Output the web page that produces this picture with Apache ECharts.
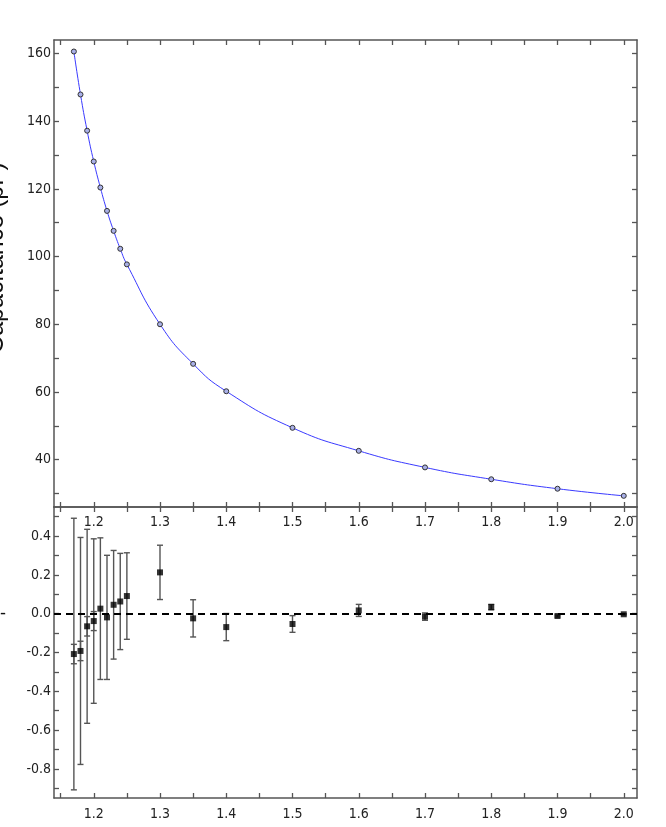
<!DOCTYPE html>
<html>
<head>
<meta charset="utf-8">
<script src="https://cdn.jsdelivr.net/npm/echarts@6/dist/echarts.min.js"></script>
<style>html,body{margin:0;padding:0;background:#fff;}#c{width:666px;height:827px;}</style>
</head>
<body>
<div id="c"></div>
<script>
// ---- data ----
var xVals = [1.17, 1.18, 1.19, 1.20, 1.21, 1.22, 1.23, 1.24, 1.25, 1.30, 1.35, 1.40, 1.50, 1.60, 1.70, 1.80, 1.90, 2.00];
var capacitance = [160.6, 147.9, 137.2, 128.1, 120.4, 113.5, 107.6, 102.3, 97.7, 80.0, 68.3, 60.2, 49.4, 42.6, 37.7, 34.2, 31.4, 29.3];
var residuals = [-0.208, -0.192, -0.065, -0.038, 0.026, -0.019, 0.046, 0.063, 0.091, 0.213, -0.024, -0.069, -0.053, 0.017, -0.015, 0.034, -0.012, -0.003];
var errBig = [0.70, 0.585, 0.50, 0.424, 0.365, 0.32, 0.28, 0.248, 0.223, 0.14, 0.096, 0.07, 0.043, 0.031, 0.019, 0.014, 0.005, 0.003];
var errSmall = [0.05, 0.05, 0.05, 0.049, null, null, null, null, null, null, null, null, null, null, null, null, null, null];

var xLabels = [1.2, 1.3, 1.4, 1.5, 1.6, 1.7, 1.8, 1.9, 2.0];
var xTicks = [1.15, 1.2, 1.25, 1.3, 1.35, 1.4, 1.45, 1.5, 1.55, 1.6, 1.65, 1.7, 1.75, 1.8, 1.85, 1.9, 1.95, 2.0];
var capLabels = [40, 60, 80, 100, 120, 140, 160];
var capTicks = [30, 40, 50, 60, 70, 80, 90, 100, 110, 120, 130, 140, 150, 160];
var resLabels = [-0.8, -0.6, -0.4, -0.2, 0.0, 0.2, 0.4];
var resTicks = [-0.9, -0.8, -0.7, -0.6, -0.5, -0.4, -0.3, -0.2, -0.1, 0.0, 0.1, 0.2, 0.3, 0.4, 0.5];

var FONT = '"DejaVu Sans Condensed", "DejaVu Sans", sans-serif';
var AX = '#555';

function axis(opts) {
  return Object.assign({
    type: 'value',
    axisLine: { show: true, onZero: false, lineStyle: { color: AX, width: 1.5 } },
    axisTick: { show: true, inside: true, length: 5, lineStyle: { color: AX, width: 1.3 }, customValues: opts.ticks },
    axisLabel: opts.labels ? {
      show: true, customValues: opts.labels, margin: opts.margin, color: '#222',
      fontFamily: FONT, fontSize: 14, formatter: opts.fmt
    } : { show: false },
    splitLine: { show: false },
    minorTick: { show: false }
  }, opts.extra);
}

var fmt1 = function (v) { return (Math.round(v * 10) / 10).toFixed(1); };
var fmt0 = function (v) { return String(Math.round(v)); };

function errRender(params, api) {
  var x = api.value(0), y = api.value(1), e = api.value(2);
  if (e == null || isNaN(e)) return null;
  var lo = api.coord([x, y - e]);
  var hi = api.coord([x, y + e]);
  var w = 3;
  var st = { stroke: '#555', lineWidth: 1.4 };
  return {
    type: 'group',
    children: [
      { type: 'line', shape: { x1: lo[0], y1: lo[1], x2: hi[0], y2: hi[1] }, style: st },
      { type: 'line', shape: { x1: hi[0] - w, y1: hi[1], x2: hi[0] + w, y2: hi[1] }, style: st },
      { type: 'line', shape: { x1: lo[0] - w, y1: lo[1], x2: lo[0] + w, y2: lo[1] }, style: st }
    ]
  };
}

var chart = echarts.init(document.getElementById('c'), null, { renderer: 'canvas' });
var option = {
  animation: false,
  backgroundColor: '#fff',
  grid: [
    { left: 54, right: 29, top: 40, height: 467 },
    { left: 54, right: 29, top: 507, height: 291 }
  ],
  xAxis: [
    axis({ ticks: xTicks, labels: xLabels, margin: 8, fmt: fmt1, extra: { gridIndex: 0, position: 'bottom', min: 1.14, max: 2.02 } }),
    axis({ ticks: xTicks, extra: { gridIndex: 0, position: 'top', min: 1.14, max: 2.02 } }),
    axis({ ticks: xTicks, labels: xLabels, margin: 9, fmt: fmt1, extra: { gridIndex: 1, position: 'bottom', min: 1.14, max: 2.02 } }),
    axis({ ticks: xTicks, extra: { gridIndex: 1, position: 'top', min: 1.14, max: 2.02 } })
  ],
  yAxis: [
    axis({ ticks: capTicks, labels: capLabels, margin: 3, fmt: fmt0, extra: { gridIndex: 0, position: 'left', min: 26, max: 164 } }),
    axis({ ticks: capTicks, extra: { gridIndex: 0, position: 'right', min: 26, max: 164 } }),
    axis({ ticks: resTicks, labels: resLabels, margin: 3, fmt: fmt1, extra: { gridIndex: 1, position: 'left', min: -0.95, max: 0.55 } }),
    axis({ ticks: resTicks, extra: { gridIndex: 1, position: 'right', min: -0.95, max: 0.55 } })
  ],
  graphic: [
    { type: 'text', x: 9, y: 258, rotation: Math.PI / 2,
      style: { text: 'Capacitance (pF)', font: '25px "Liberation Sans", sans-serif', fill: '#111', textAlign: 'center', textVerticalAlign: 'bottom' } },
    { type: 'text', x: 0, y: 614,
      style: { text: '-', font: '18px "Liberation Sans", sans-serif', fill: '#111', textAlign: 'left', textVerticalAlign: 'middle' } }
  ],
  series: [
    {
      type: 'line', xAxisIndex: 0, yAxisIndex: 0,
      data: xVals.map(function (x, i) { return [x, capacitance[i]]; }),
      smooth: 0.5,
      symbol: 'circle', symbolSize: 5, showSymbol: true,
      lineStyle: { color: '#3a3aff', width: 1 },
      itemStyle: { color: '#a9b0e8', borderColor: '#333', borderWidth: 1 },
      z: 3
    },
    {
      type: 'custom', xAxisIndex: 2, yAxisIndex: 2,
      renderItem: errRender,
      data: xVals.map(function (x, i) { return [x, residuals[i], errBig[i]]; }),
      z: 2
    },
    {
      type: 'custom', xAxisIndex: 2, yAxisIndex: 2,
      renderItem: errRender,
      data: xVals.map(function (x, i) { return [x, residuals[i], errSmall[i] == null ? NaN : errSmall[i]]; }),
      z: 2
    },
    {
      type: 'scatter', xAxisIndex: 2, yAxisIndex: 2,
      data: xVals.map(function (x, i) { return [x, residuals[i]]; }),
      symbol: 'rect', symbolSize: 6,
      itemStyle: { color: '#000' },
      markLine: {
        silent: true, symbol: 'none', label: { show: false },
        lineStyle: { color: '#000', width: 2, type: [7, 5] },
        data: [{ yAxis: 0 }]
      },
      z: 4
    }
  ]
};
chart.setOption(option);
</script>
</body>
</html>
